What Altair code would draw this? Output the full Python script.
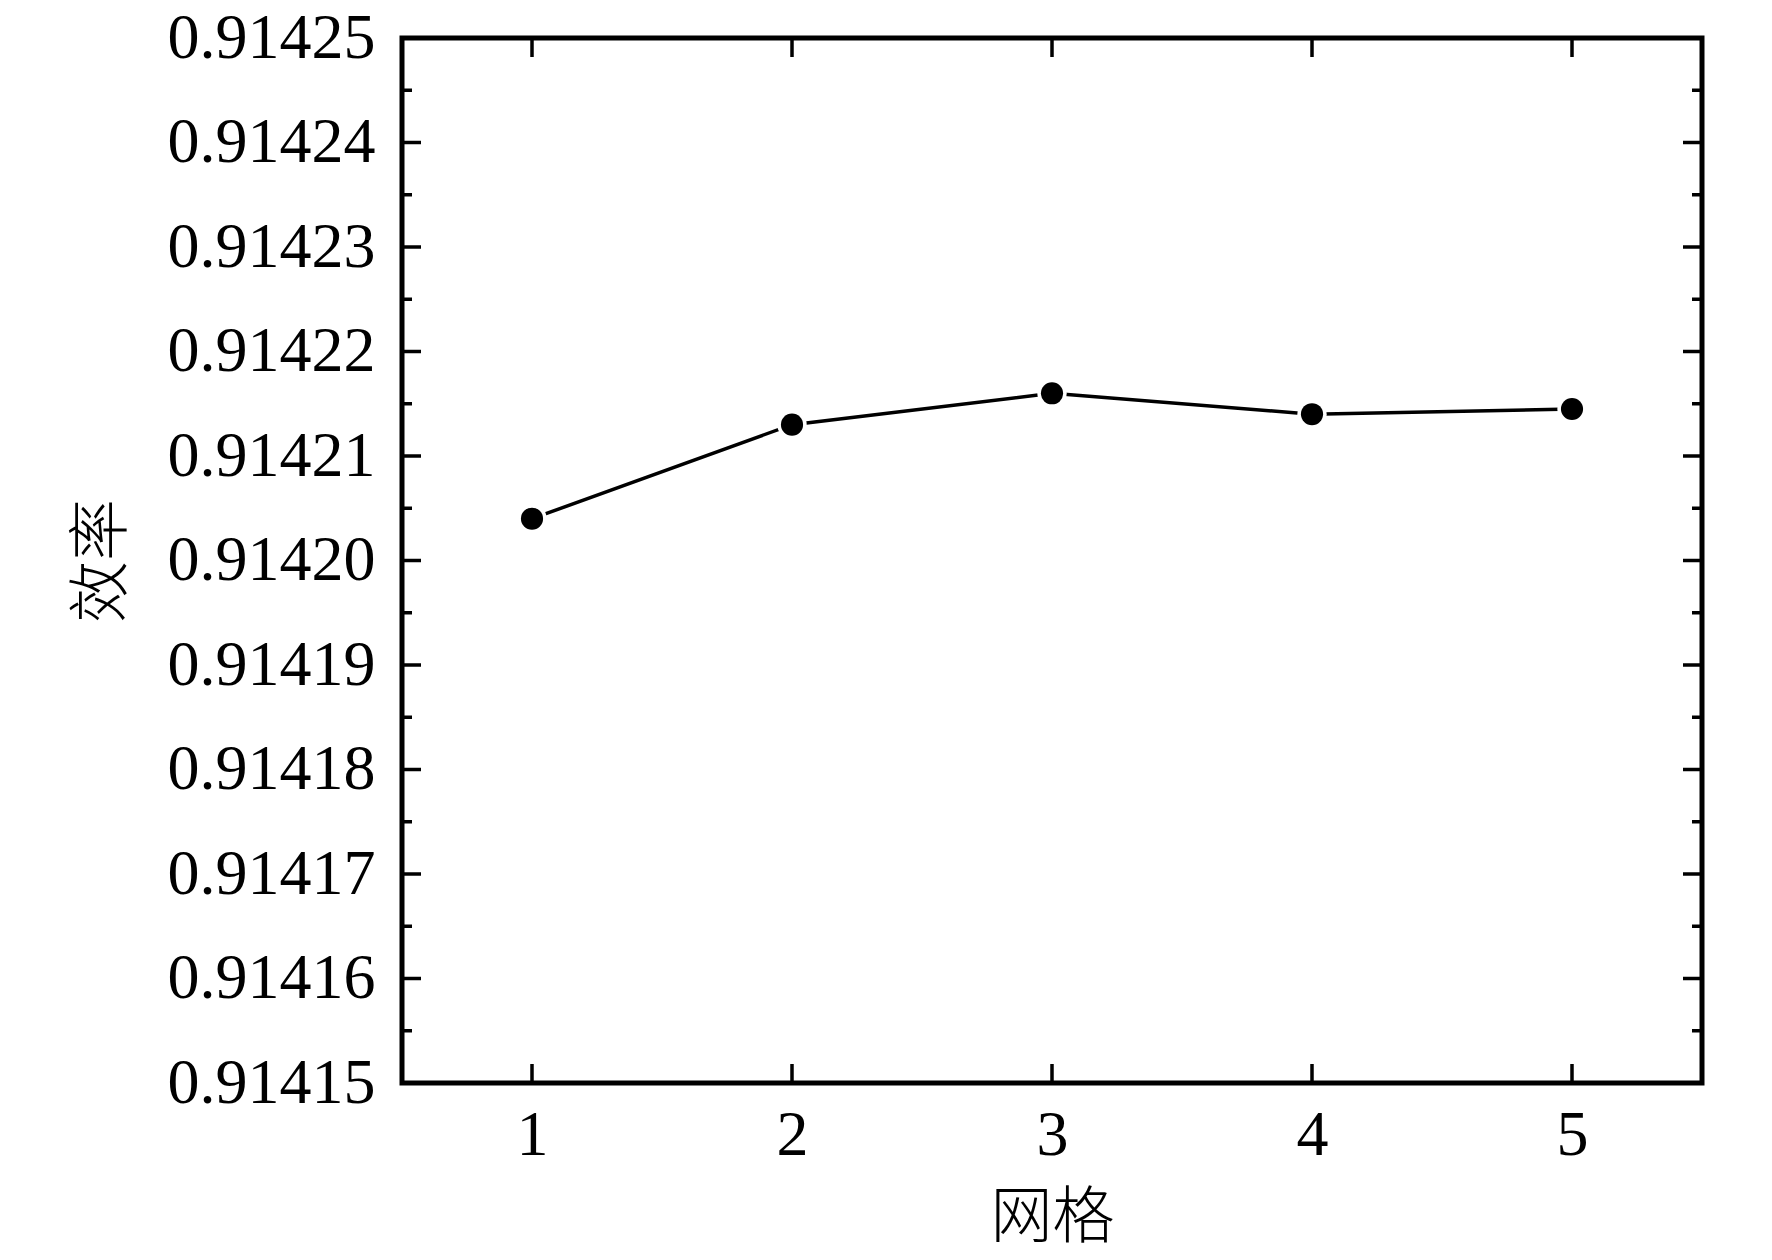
import altair as alt
import pandas as pd

# --- data ---
grid = [1, 2, 3, 4, 5]
efficiency = [0.914204, 0.914213, 0.914216, 0.914214, 0.9142145]

y_major = [0.91415, 0.91416, 0.91417, 0.91418, 0.91419, 0.91420,
           0.91421, 0.91422, 0.91423, 0.91424, 0.91425]
y_minor = [0.914155, 0.914165, 0.914175, 0.914185, 0.914195,
           0.914205, 0.914215, 0.914225, 0.914235, 0.914245]
x_ticks = [1, 2, 3, 4, 5]

W, H = 1300, 1045
MAJOR, MINOR = 19, 10
NUM_FONT = "Liberation Serif, Times New Roman, serif"
CJK_FONT = "Noto Sans CJK SC"

df = pd.DataFrame({"grid": grid, "eff": efficiency})
df_major = pd.DataFrame({"eff": y_major})
df_minor = pd.DataFrame({"eff": y_minor})
df_x = pd.DataFrame({"grid": x_ticks})

x_scale = alt.Scale(domain=[0.5, 5.5], nice=False, zero=False)
y_scale = alt.Scale(domain=[0.91415, 0.91425], nice=False, zero=False)

x_axis = alt.Axis(
    values=x_ticks,
    format="d",
    ticks=False,
    domain=False,
    grid=False,
    labelFont=NUM_FONT,
    labelFontSize=64,
    labelColor="black",
    labelPadding=20,
    labelLimit=400,
    titleFont=CJK_FONT,
    titleFontSize=62,
    titleFontWeight=300,
    titleColor="black",
    titlePadding=21,
)
y_axis = alt.Axis(
    values=y_major,
    format=".5f",
    ticks=False,
    domain=False,
    grid=False,
    labelFont=NUM_FONT,
    labelFontSize=64,
    labelColor="black",
    labelPadding=27,
    labelLimit=400,
    titleFont=CJK_FONT,
    titleFontSize=62,
    titleFontWeight=300,
    titleColor="black",
    titleX=-268,
    titleY=H / 2,
)

X = alt.X("grid:Q", scale=x_scale, axis=x_axis, title="网格")
Y = alt.Y("eff:Q", scale=y_scale, axis=y_axis, title="效率")

base = alt.Chart(df)
line = base.mark_line(color="black", strokeWidth=3.5).encode(x=X, y=Y)
halo = base.mark_circle(color="white", size=860, opacity=1).encode(x=X, y=Y)
dots = base.mark_circle(color="black", size=490, opacity=1).encode(x=X, y=Y)


def y_ticks(data, length, side):
    x0, x1 = (0, length) if side == "left" else (W - length, W)
    return (
        alt.Chart(data)
        .mark_rule(color="black", strokeWidth=3.5)
        .encode(y=Y, x=alt.value(x0), x2=alt.value(x1))
    )


def x_tick_rules(side):
    y0, y1 = (0, MAJOR) if side == "top" else (H - MAJOR, H)
    return (
        alt.Chart(df_x)
        .mark_rule(color="black", strokeWidth=3.5)
        .encode(x=X, y=alt.value(y0), y2=alt.value(y1))
    )


chart = (
    alt.layer(
        line,
        halo,
        dots,
        y_ticks(df_major, MAJOR, "left"),
        y_ticks(df_minor, MINOR, "left"),
        y_ticks(df_major, MAJOR, "right"),
        y_ticks(df_minor, MINOR, "right"),
        x_tick_rules("top"),
        x_tick_rules("bottom"),
    )
    .properties(
        width=W,
        height=H,
        autosize=alt.AutoSizeParams(type="none"),
        padding={"left": 394, "top": 30, "right": 50, "bottom": 170},
        background="white",
    )
    .configure_view(stroke="black", strokeWidth=5)
)

chart.save("out.html", embed_options={"renderer": "svg", "actions": False})
